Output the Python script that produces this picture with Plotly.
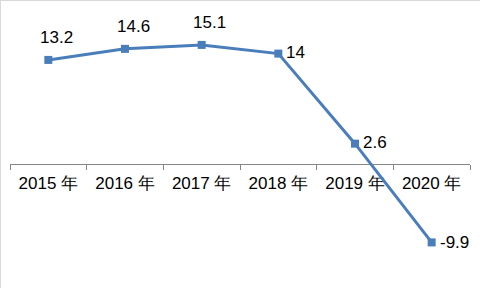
import plotly.graph_objects as go

categories = ["2015 年", "2016 年", "2017 年", "2018 年", "2019 年", "2020 年"]
values = [13.2, 14.6, 15.1, 14, 2.6, -9.9]
label_text = ["13.2", "14.6", "15.1", "14", "2.6", "-9.9"]

W, H = 480, 288
ML, MR, MT, MB = 10, 10, 22, 29
YMIN, YMAX = -12, 18

color = "#4A7EBB"

fig = go.Figure()
fig.add_trace(go.Scatter(
    x=categories, y=values, mode="lines+markers",
    line=dict(color=color, width=3),
    marker=dict(symbol="square", size=8, color=color),
    hoverinfo="skip", showlegend=False,
))

# label placement: (xshift, yshift, xanchor)
placement = [(8, 22, "center"), (8, 22, "center"), (8, 22, "center"),
             (6, 1, "left"), (6, 1, "left"), (6, 0, "left")]
annotations = []
for c, v, t, (dx, dy, xa) in zip(categories, values, label_text, placement):
    annotations.append(dict(
        x=c, y=v, xref="x", yref="y", text=t, showarrow=False,
        xanchor=xa, yanchor="middle", xshift=dx, yshift=dy,
        font=dict(family="Liberation Sans, Arial", size=17, color="#000000"),
    ))

pw = W - ML - MR
ph = H - MT - MB
shapes = [
    dict(type="line", xref="paper", yref="paper",
         x0=(-ML + 0.5) / pw, x1=(-ML + 0.5) / pw, y0=-MB / ph, y1=1 + MT / ph,
         line=dict(color="#D9D9D9", width=1)),
    dict(type="line", xref="paper", yref="paper",
         x0=-ML / pw, x1=1 + MR / pw, y0=1 + (MT - 0.5) / ph, y1=1 + (MT - 0.5) / ph,
         line=dict(color="#D9D9D9", width=1)),
]

fig.update_layout(
    width=W, height=H,
    margin=dict(l=ML, r=MR, t=MT, b=MB, pad=0),
    paper_bgcolor="white", plot_bgcolor="white",
    annotations=annotations, shapes=shapes,
    xaxis=dict(
        type="category", range=[-0.5, 5.5],
        anchor="free", position=(0 - YMIN) / (YMAX - YMIN),
        showline=True, linecolor="#868686", linewidth=1,
        ticks="outside", tickson="boundaries", ticklen=5, tickcolor="#868686",
        ticklabelstandoff=3,
        showgrid=False, zeroline=False, layer="below traces",
        tickfont=dict(family="Liberation Sans, Arial", size=17, color="#000000"),
        fixedrange=True,
    ),
    yaxis=dict(
        range=[YMIN, YMAX], visible=False, showgrid=False, zeroline=False,
        fixedrange=True,
    ),
)

fig.write_html("out.html")
